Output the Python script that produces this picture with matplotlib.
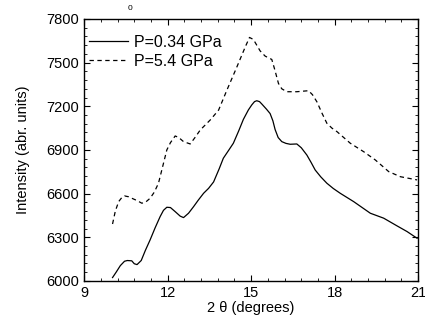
import matplotlib
matplotlib.use('Agg')
import matplotlib.pyplot as plt
from matplotlib.ticker import MultipleLocator, AutoMinorLocator

plt.rcParams['font.family'] = ['Liberation Sans', 'DejaVu Sans']

# P = 0.34 GPa (solid)
theta_lo = [10.02, 10.15, 10.3, 10.45, 10.55, 10.71, 10.8, 10.9, 11.05, 11.2, 11.37, 11.55, 11.73,
            11.85, 11.97, 12.1, 12.27, 12.45, 12.57, 12.75, 12.93, 13.1, 13.29, 13.47, 13.65,
            13.85, 14.0, 14.2, 14.36, 14.55, 14.72, 14.9, 15.02, 15.12, 15.2, 15.3, 15.38,
            15.55, 15.68, 15.78, 15.86, 15.97, 16.1, 16.25, 16.4, 16.64, 16.8, 17.0, 17.15,
            17.3, 17.5, 17.72, 17.95, 18.2, 18.68, 19.28, 19.76, 20.24, 20.6, 20.96]
int_lo = [6023, 6060, 6105, 6135, 6140, 6138, 6118, 6112, 6140, 6210, 6282, 6365, 6442,
          6485, 6506, 6504, 6476, 6445, 6435, 6465, 6510, 6555, 6602, 6636, 6680,
          6770, 6843, 6900, 6946, 7030, 7110, 7175, 7209, 7232, 7238, 7232, 7216,
          7180, 7150, 7100, 7040, 6985, 6957, 6945, 6939, 6941, 6915, 6865, 6815,
          6762, 6715, 6671, 6635, 6602, 6545, 6465, 6431, 6378, 6339, 6293]

# P = 5.4 GPa (dashed)
theta_hi = [10.02, 10.12, 10.24, 10.35, 10.45, 10.6, 10.77, 10.9, 11.07, 11.2, 11.37, 11.52,
            11.67, 11.8, 11.97, 12.1, 12.27, 12.4, 12.57, 12.81, 13.0, 13.17, 13.53, 13.83,
            14.13, 14.49, 14.79, 14.94, 15.08, 15.2, 15.32, 15.5, 15.65, 15.74, 15.85, 15.98,
            16.1, 16.28, 16.64, 17.06, 17.2, 17.36, 17.55, 17.72, 17.9, 18.08, 18.56, 19.04,
            19.46, 19.94, 20.36, 20.96]
int_hi = [6391, 6480, 6545, 6572, 6584, 6578, 6563, 6552, 6534, 6540, 6568, 6610,
          6671, 6770, 6900, 6950, 6996, 6985, 6957, 6941, 6990, 7037, 7106, 7174,
          7312, 7472, 7609, 7673, 7659, 7620, 7581, 7545, 7530, 7522, 7450, 7357,
          7320, 7300, 7300, 7307, 7280, 7231, 7150, 7083, 7050, 7026, 6946, 6888,
          6831, 6751, 6716, 6694]

fig = plt.figure(figsize=(4.25, 3.27), dpi=100)
ax = fig.add_axes([0.198, 0.141, 0.786, 0.801])

ax.plot(theta_lo, int_lo, color='black', linestyle='-', linewidth=0.9, label='P=0.34 GPa')
ax.plot(theta_hi, int_hi, color='black', linestyle=(0, (3.5, 2.8)), linewidth=0.9, label='P=5.4 GPa')

ax.set_xlim(9, 21)
ax.set_ylim(6000, 7800)
ax.xaxis.set_major_locator(MultipleLocator(3))
ax.xaxis.set_minor_locator(AutoMinorLocator(5))
ax.yaxis.set_major_locator(MultipleLocator(300))
ax.yaxis.set_minor_locator(AutoMinorLocator(5))
ax.tick_params(which='both', direction='in', top=True, right=True, labelsize=10.5)
ax.tick_params(which='major', length=4)
ax.tick_params(which='minor', length=2)
for s in ax.spines.values():
    s.set_linewidth(1.0)

ax.set_xlabel('2 θ (degrees)', fontsize=10.5, labelpad=1)
ax.set_ylabel('Intensity (abr. units)', fontsize=10.5, labelpad=12)

ax.legend(loc='upper left', frameon=False, fontsize=11.5, handlelength=2.4,
          handletextpad=0.4, borderaxespad=0.35, borderpad=0.4, labelspacing=0.25,
          bbox_to_anchor=(-0.02, 0.985))

fig.text(0.305, 0.975, '0', fontsize=6, ha='center', va='center')

fig.savefig('out.png', dpi=100)
